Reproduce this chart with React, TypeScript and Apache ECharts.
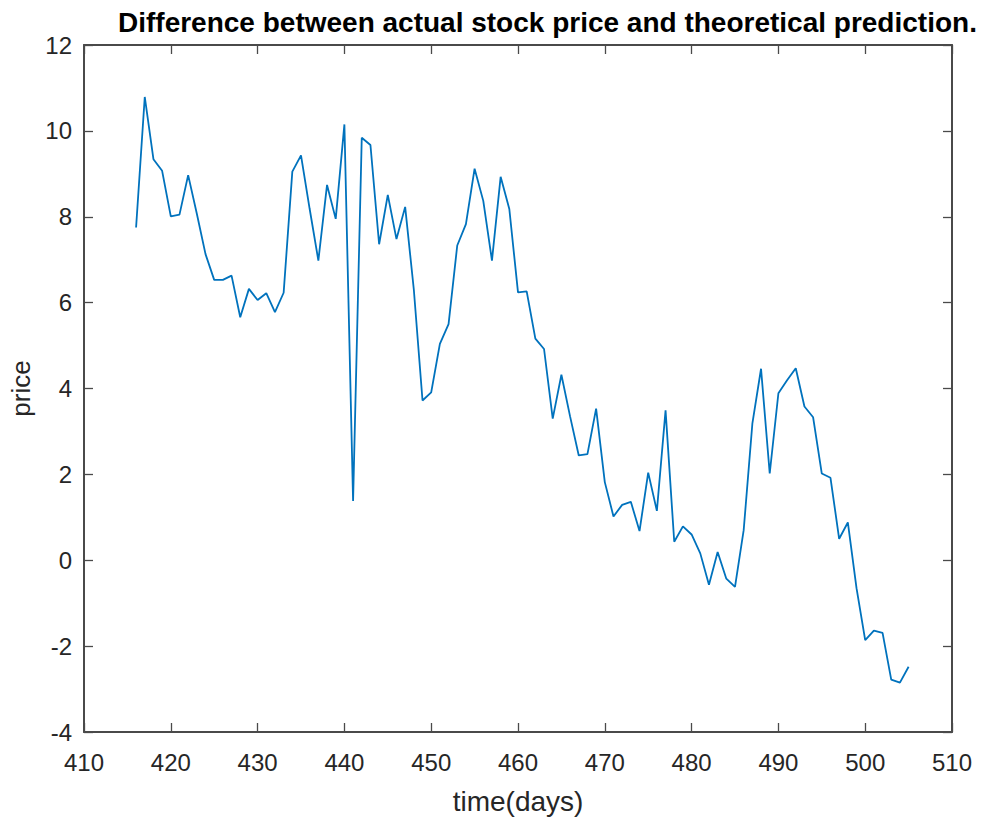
import React, { useEffect, useRef } from "react";
import * as echarts from "echarts";

// Trading day index (x) and price difference (y)
const days: number[] = [
  416, 417, 418, 419, 420, 421, 422, 423, 424, 425,
  426, 427, 428, 429, 430, 431, 432, 433, 434, 435,
  436, 437, 438, 439, 440, 441, 442, 443, 444, 445,
  446, 447, 448, 449, 450, 451, 452, 453, 454, 455,
  456, 457, 458, 459, 460, 461, 462, 463, 464, 465,
  466, 467, 468, 469, 470, 471, 472, 473, 474, 475,
  476, 477, 478, 479, 480, 481, 482, 483, 484, 485,
  486, 487, 488, 489, 490, 491, 492, 493, 494, 495,
  496, 497, 498, 499, 500, 501, 502, 503, 504, 505,
];

const priceDiff: number[] = [
  7.75, 10.79, 9.34, 9.07, 8.01, 8.05, 8.97, 8.07, 7.13, 6.53,
  6.53, 6.63, 5.66, 6.32, 6.06, 6.22, 5.78, 6.23, 9.05, 9.43,
  8.18, 6.98, 8.74, 7.95, 10.15, 1.38, 9.84, 9.67, 7.36, 8.51,
  7.48, 8.23, 6.3, 3.72, 3.91, 5.04, 5.5, 7.33, 7.83, 9.12,
  8.37, 6.98, 8.93, 8.18, 6.24, 6.26, 5.16, 4.92, 3.3, 4.32,
  3.35, 2.44, 2.47, 3.53, 1.82, 1.02, 1.29, 1.36, 0.68, 2.04,
  1.15, 3.49, 0.43, 0.79, 0.6, 0.16, -0.57, 0.19, -0.43, -0.62,
  0.7, 3.18, 4.46, 2.02, 3.89, 4.19, 4.47, 3.58, 3.33, 2.02,
  1.92, 0.5, 0.88, -0.65, -1.86, -1.64, -1.69, -2.78, -2.85, -2.48,
];

const xMin = 410;
const xMax = 510;
const xStep = 10;
const yMin = -4;
const yMax = 12;
const yStep = 2;

const FONT = '"Liberation Sans", Arial, Helvetica, sans-serif';
const TEXT = "#262626";
const AXIS = "#4a4a4a";

export default function App() {
  const ref = useRef<HTMLDivElement>(null);

  useEffect(() => {
    if (!ref.current) return;
    const chart = echarts.init(ref.current, undefined, { renderer: "svg" });

    // Box-style axes: ticks drawn inward on all four sides
    const boxAxis = {
      axisLine: { show: true, onZero: false, lineStyle: { color: AXIS, width: 2 } },
      axisTick: { show: true, inside: true, length: 9, lineStyle: { color: AXIS, width: 1.3 } },
      splitLine: { show: false },
    };

    chart.setOption({
      animation: false,
      backgroundColor: "#ffffff",
      title: {
        text: "Difference between actual stock price and theoretical prediction.",
        left: 113,
        top: 3,
        textStyle: { fontFamily: FONT, fontSize: 28, fontWeight: "bold", color: "#000000" },
      },
      grid: { left: 84, right: 29, top: 45, bottom: 88, containLabel: false },
      xAxis: [
        {
          type: "value",
          position: "bottom",
          min: xMin,
          max: xMax,
          interval: xStep,
          ...boxAxis,
          axisLabel: { show: true, margin: 18, fontFamily: FONT, fontSize: 24, color: TEXT },
          name: "time(days)",
          nameLocation: "middle",
          nameGap: 55,
          nameTextStyle: { fontFamily: FONT, fontSize: 28, color: TEXT },
        },
        {
          type: "value",
          position: "top",
          min: xMin,
          max: xMax,
          interval: xStep,
          ...boxAxis,
          axisLabel: { show: false },
        },
      ],
      yAxis: [
        {
          type: "value",
          position: "left",
          min: yMin,
          max: yMax,
          interval: yStep,
          ...boxAxis,
          axisLabel: { show: true, margin: 12, fontFamily: FONT, fontSize: 24, color: TEXT },
          name: "price",
          nameLocation: "middle",
          nameGap: 49,
          nameTextStyle: { fontFamily: FONT, fontSize: 26, color: TEXT },
        },
        {
          type: "value",
          position: "right",
          min: yMin,
          max: yMax,
          interval: yStep,
          ...boxAxis,
          axisLabel: { show: false },
        },
      ],
      series: [
        {
          type: "line",
          data: days.map((d, i) => [d, priceDiff[i]]),
          showSymbol: false,
          lineStyle: { color: "#0072BD", width: 1.8 },
          xAxisIndex: 0,
          yAxisIndex: 0,
        },
      ],
    });

    return () => chart.dispose();
  }, []);

  return (
    <div
      ref={ref}
      style={{ position: "fixed", left: 0, top: 0, width: 981, height: 820, background: "#fff" }}
    />
  );
}
